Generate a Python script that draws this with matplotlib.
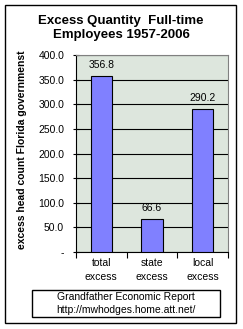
import matplotlib
matplotlib.use("Agg")
import matplotlib.pyplot as plt
from matplotlib.patches import Rectangle

categories = ["total\nexcess", "state\nexcess", "local\nexcess"]
values = [356.8, 66.6, 290.2]
yticks = [0, 50, 100, 150, 200, 250, 300, 350, 400]
ytick_labels = ["-", "50.0", "100.0", "150.0", "200.0", "250.0", "300.0", "350.0", "400.0"]

plt.rcParams['font.family'] = ['Liberation Sans', 'DejaVu Sans']

W, H = 243, 329
fig = plt.figure(figsize=(W/100, H/100), dpi=100)
fig.patch.set_facecolor('white')

# outer border
fig.add_artist(Rectangle((5/W, 1-323/H), (236-5)/W, (323-5)/H, transform=fig.transFigure,
                         fill=False, edgecolor='black', linewidth=1.0))

ax = fig.add_axes([76/W, 1-252/H, (228-76)/W, (252-55)/H])
ax.set_facecolor('#dde6dd')
x = list(range(len(categories)))
ax.bar(x, values, width=0.42, color='#8080ff', edgecolor='black', linewidth=0.8, zorder=3)
ax.set_xlim(-0.5, len(categories)-0.5)
ax.set_ylim(0, 400)
ax.set_yticks(yticks)
ax.set_yticklabels(ytick_labels, fontsize=7.5)
ax.yaxis.grid(True, color='black', linewidth=0.8, zorder=1)
ax.set_axisbelow(True)
ax.tick_params(axis='y', direction='inout', length=5, width=0.8, pad=6)
ax.set_xticks([i - 0.5 for i in range(len(categories)+1)])
ax.set_xticklabels([])
ax.tick_params(axis='x', direction='out', length=4, width=0.8)
for i, c in enumerate(categories):
    ax.text(i, -12, c, ha='center', va='top', fontsize=7.5, linespacing=1.5)
for spine in ['top', 'right']:
    ax.spines[spine].set_color('#808080')
    ax.spines[spine].set_linewidth(0.8)
for spine in ['left', 'bottom']:
    ax.spines[spine].set_color('black')
    ax.spines[spine].set_linewidth(0.8)
for i, v in enumerate(values):
    ax.text(i, v + 12, f"{v:.1f}", ha='center', va='bottom', fontsize=7.5)

fig.text(121/W, 1-15/H, "Excess Quantity  Full-time\nEmployees 1957-2006", ha='center', va='top',
         fontsize=9.5, fontweight='bold', linespacing=1.2)

fig.text(22/W, 1-150/H, "excess head count Florida governmenst", rotation=90, ha='center', va='center',
         fontsize=7.5, fontweight='bold')

# source box
fig.add_artist(Rectangle((32/W, 1-317/H), (220-32)/W, (317-290)/H, transform=fig.transFigure,
                         fill=False, edgecolor='black', linewidth=1.0))
fig.text(126/W, 1-297/H, "Grandfather Economic Report", ha='center', va='center', fontsize=7.5)
fig.text(126/W, 1-310/H, "http://mwhodges.home.att.net/", ha='center', va='center', fontsize=7.5)

fig.savefig("out.png", dpi=100)
